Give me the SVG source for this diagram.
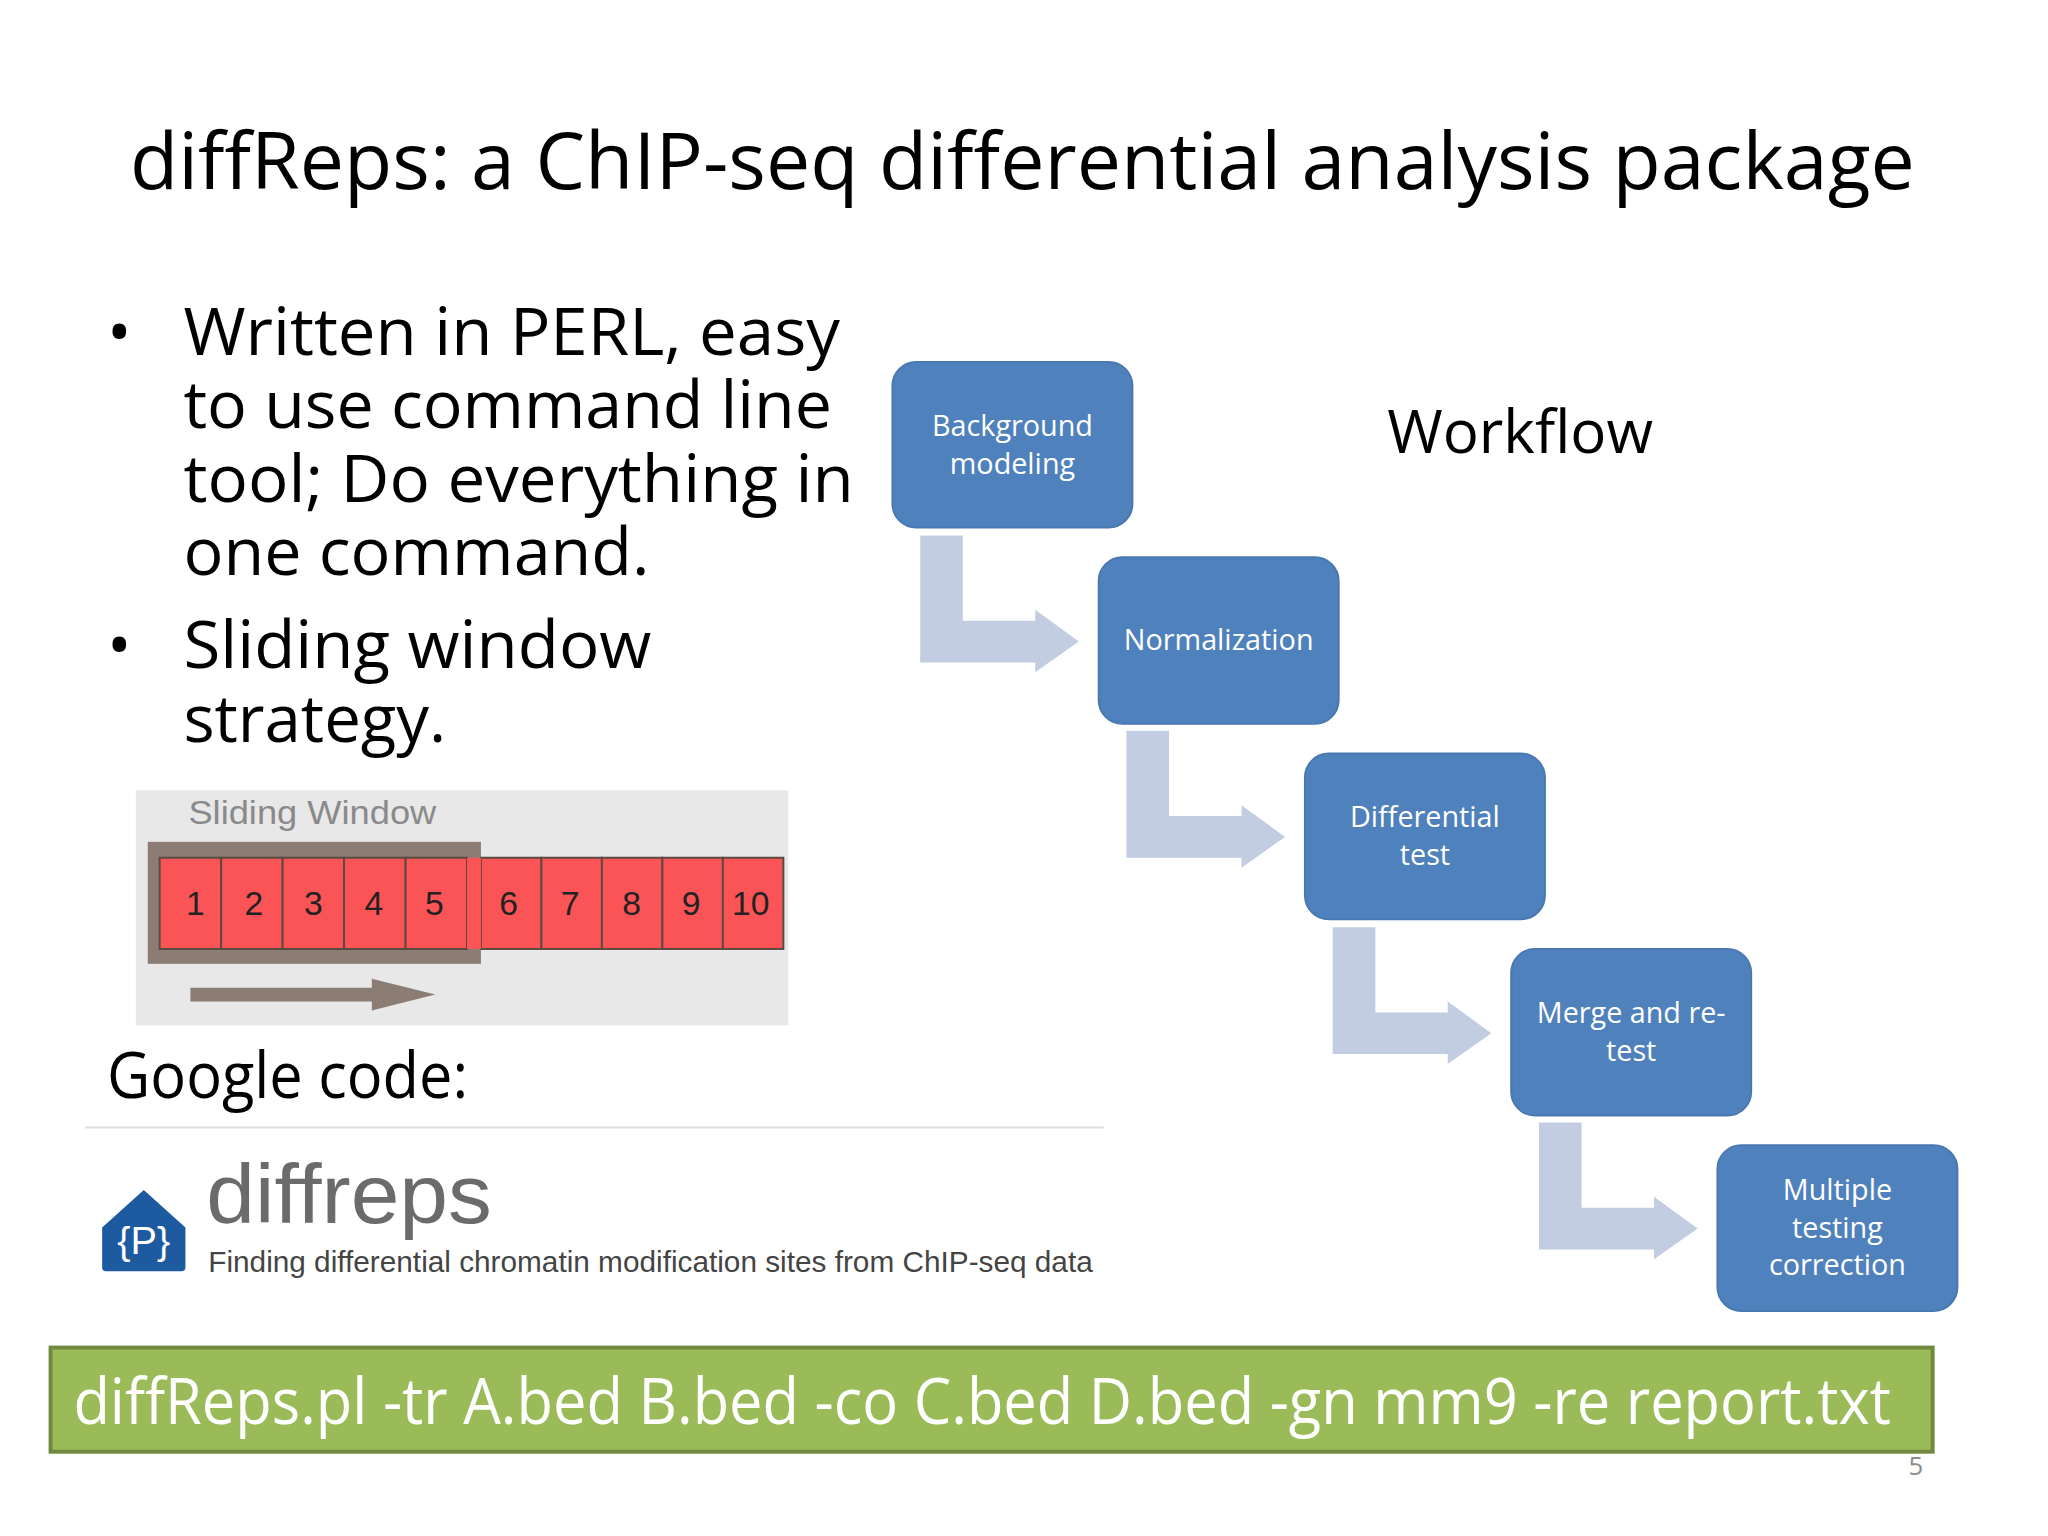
<svg xmlns="http://www.w3.org/2000/svg" width="2048" height="1536" viewBox="0 0 2048 1536">
<style>
.t{font-family:"Open Sans","Noto Sans",sans-serif;fill:#000}
.box{fill:#4f81bd;stroke:#4a78b0;stroke-width:2}
.bt{font-family:"Open Sans","Noto Sans",sans-serif;font-size:29px;fill:#fff;text-anchor:middle}
.arr{fill:#c3cde2}
.cell{fill:#fb5457;stroke:#5a4a40;stroke-width:2}
.num{font-family:"Liberation Sans",Arial,sans-serif;font-size:34px;fill:#222;text-anchor:middle}
</style>
<defs>
<path id="bent" d="M28,175 H71 V261 H144 V250 L188,282 L144,313 V303 H28 Z"/>
</defs>
<rect width="2048" height="1536" fill="#fff"/>
<g transform="scale(0.9916)">
<text class="t" x="1031" y="191" font-size="80" text-anchor="middle" textLength="1800" lengthAdjust="spacingAndGlyphs">diffReps: a ChIP-seq differential analysis package</text>
<g id="bullets" class="t" font-size="66">
<text x="108" y="358">•</text>
<text x="185" y="358" textLength="662" lengthAdjust="spacingAndGlyphs">Written in PERL, easy</text>
<text x="185" y="432" textLength="654" lengthAdjust="spacingAndGlyphs">to use command line</text>
<text x="185" y="506" textLength="676" lengthAdjust="spacingAndGlyphs">tool; Do everything in</text>
<text x="185" y="580" textLength="470" lengthAdjust="spacingAndGlyphs">one command.</text>
<text x="108" y="674">•</text>
<text x="185" y="674" textLength="472" lengthAdjust="spacingAndGlyphs">Sliding window</text>
<text x="185" y="748" textLength="265" lengthAdjust="spacingAndGlyphs">strategy.</text>
</g>
<g id="sliding-window">
<rect x="137" y="797" width="658" height="237" fill="#e8e8e8"/>
<text x="190" y="831" font-family="Liberation Sans,Arial,sans-serif" font-size="34" fill="#8a8a8a" textLength="250" lengthAdjust="spacingAndGlyphs">Sliding Window</text>
<rect x="149" y="849" width="336" height="123" fill="#8c7d74"/>
<g>
<rect class="cell" x="161" y="865" width="62" height="92"/>
<rect class="cell" x="223" y="865" width="62" height="92"/>
<rect class="cell" x="285" y="865" width="62" height="92"/>
<rect class="cell" x="347" y="865" width="62" height="92"/>
<rect class="cell" x="409" y="865" width="62" height="92"/>
<rect class="cell" x="485" y="865" width="61" height="92"/>
<rect class="cell" x="546" y="865" width="61" height="92"/>
<rect class="cell" x="607" y="865" width="61" height="92"/>
<rect class="cell" x="668" y="865" width="61" height="92"/>
<rect class="cell" x="729" y="865" width="61" height="92"/>
<rect x="471" y="865" width="14" height="92" fill="#fb5457"/>
</g>
<g class="num">
<text x="197" y="923">1</text><text x="256" y="923">2</text><text x="316" y="923">3</text><text x="377" y="923">4</text><text x="438" y="923">5</text>
<text x="513" y="923">6</text><text x="575" y="923">7</text><text x="637" y="923">8</text><text x="697" y="923">9</text><text x="757" y="923">10</text>
</g>
<path d="M192,996 H375 V987 L439,1003 L375,1019 V1010 H192 Z" fill="#8c7d74"/>
</g>
<text class="t" x="108" y="1107" font-size="64" textLength="364" lengthAdjust="spacingAndGlyphs">Google code:</text>
<line x1="86" y1="1137" x2="1113" y2="1137" stroke="#ddd" stroke-width="2"/>
<g id="logo">
<path d="M145,1200 L187,1238 V1278 Q187,1282 183,1282 H107 Q103,1282 103,1278 V1238 Z" fill="#1d5aa0"/>
<text x="145" y="1265" font-family="Liberation Sans,Arial,sans-serif" font-size="40" fill="#fff" text-anchor="middle">{P}</text>
<text x="208" y="1233" font-family="Liberation Sans,Arial,sans-serif" font-size="84" fill="#6b6b6b" textLength="288" lengthAdjust="spacingAndGlyphs">diffreps</text>
<text x="210" y="1283" font-family="Liberation Sans,Arial,sans-serif" font-size="29" fill="#444" textLength="892" lengthAdjust="spacingAndGlyphs">Finding differential chromatin modification sites from ChIP-seq data</text>
</g>
<text class="t" x="1399" y="457" font-size="60" textLength="268" lengthAdjust="spacingAndGlyphs">Workflow</text>
<g id="connectors" class="arr">
<use href="#bent" x="900" y="365"/>
<use href="#bent" x="1108" y="562"/>
<use href="#bent" x="1316" y="760"/>
<use href="#bent" x="1524" y="957"/>
</g>
<g id="n1"><rect class="box" x="900" y="365" width="242" height="167" rx="24"/>
<text class="bt" x="1021" y="440">Background</text><text class="bt" x="1021" y="478">modeling</text></g>
<g id="n2"><rect class="box" x="1108" y="562" width="242" height="168" rx="24"/>
<text class="bt" x="1229" y="656">Normalization</text></g>
<g id="n3"><rect class="box" x="1316" y="760" width="242" height="167" rx="24"/>
<text class="bt" x="1437" y="834">Differential</text><text class="bt" x="1437" y="872">test</text></g>
<g id="n4"><rect class="box" x="1524" y="957" width="242" height="168" rx="24"/>
<text class="bt" x="1645" y="1032">Merge and re-</text><text class="bt" x="1645" y="1070">test</text></g>
<g id="n5"><rect class="box" x="1732" y="1155" width="242" height="167" rx="24"/>
<text class="bt" x="1853" y="1210">Multiple</text><text class="bt" x="1853" y="1248">testing</text><text class="bt" x="1853" y="1286">correction</text></g>
<g id="command">
<rect x="51" y="1359" width="1898" height="105" fill="#9bbb59" stroke="#71893f" stroke-width="4"/>
<text x="74" y="1436" font-family="Open Sans,Noto Sans,sans-serif" font-size="64" fill="#fff" textLength="1833" lengthAdjust="spacingAndGlyphs">diffReps.pl -tr A.bed B.bed -co C.bed D.bed -gn mm9 -re report.txt</text>
</g>
<text x="1932" y="1488" font-family="Open Sans,sans-serif" font-size="26" fill="#8c8c8c" text-anchor="middle">5</text>
</g>
</svg>
